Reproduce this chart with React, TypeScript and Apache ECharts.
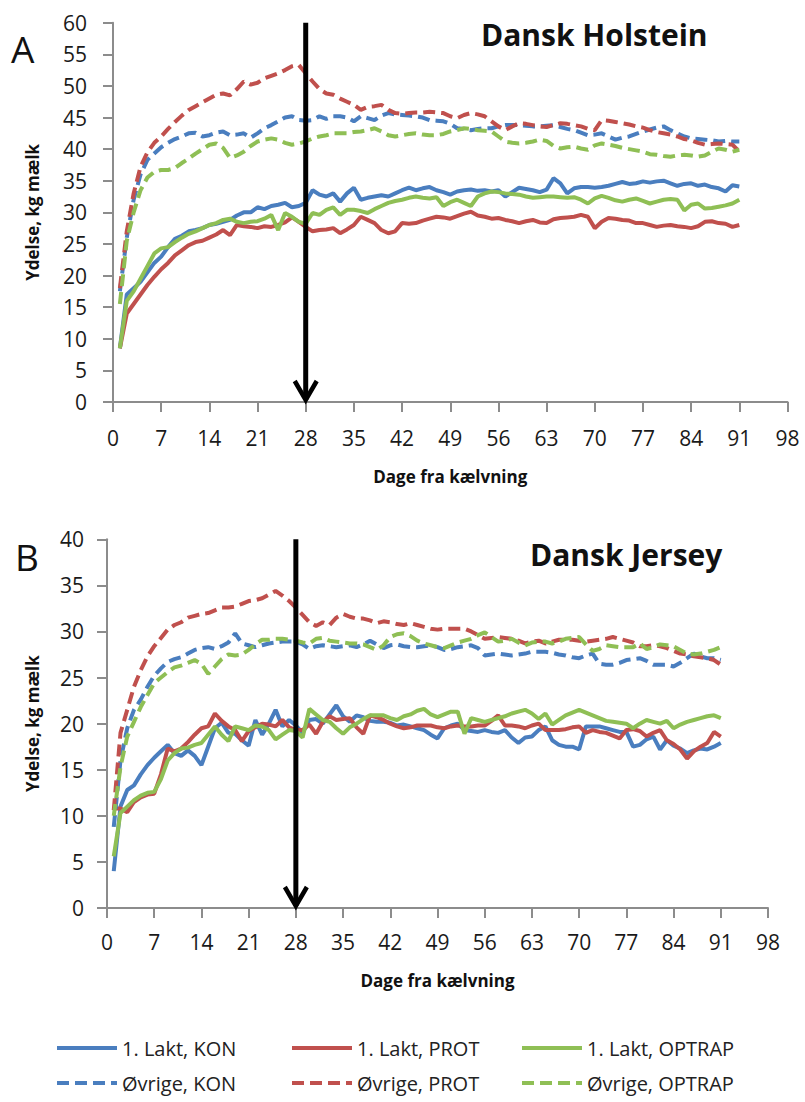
import React, { useEffect, useRef } from "react";
import * as echarts from "echarts";

const DAYS = Array.from({ length: 91 }, (_, i) => i + 1);

// Panel A – Dansk Holstein
const A_LAKT_KON = [8.5,17,18,19,20.5,22,23,24.5,25.8,26.3,27,27.2,27.5,28,28.2,28.5,28.8,29.5,30,30,30.8,30.5,31,31.2,31.5,30.8,31,31.5,33.5,32.8,32.5,33,31.7,33,33.9,32,32.3,32.5,32.7,32.5,33,33.5,33.9,33.5,33.8,34,33.5,33.2,32.8,33.3,33.5,33.6,33.4,33.5,33.3,33.5,32.5,33.2,33.9,33.7,33.5,33.2,33.6,35.4,34.6,33,33.8,34,34,33.9,34,34.2,34.5,34.8,34.5,34.6,34.9,34.7,34.9,35,34.6,34.2,34.5,34.6,34.2,34.4,34,33.8,33.3,34.3,34.1];
const A_LAKT_PROT = [8.5,14,15.5,17,18.5,19.8,21,22,23.2,24,24.8,25.3,25.5,26,26.5,27.2,26.4,28,27.8,27.7,27.5,27.8,27.7,28,28.4,29.2,28.5,27.7,27,27.2,27.3,27.5,26.7,27.3,28,29.3,28.8,28.3,27.2,26.7,27,28.3,28.2,28.3,28.7,29,29.3,29.2,29,29.4,29.8,30.1,29.5,29.3,29,29.1,28.8,28.6,28.3,28.6,28.8,28.4,28.3,28.9,29.1,29.2,29.3,29.6,29.3,27.5,28.5,29.1,29,28.8,28.7,28.3,28.3,28,27.7,27.9,28,27.8,27.7,27.5,27.8,28.5,28.6,28.3,28.2,27.7,28];
const A_LAKT_OPTRAP = [8.5,16,17.5,19.5,21.5,23.5,24.3,24.5,25.3,26,26.6,27,27.5,28,28.3,28.8,29,28.5,28.3,28.5,28.6,29,29.6,27.2,29.9,29.3,28.5,28.2,29.9,29.6,30.4,30.8,29.6,30.4,30.4,30.2,29.9,30.5,31,31.5,31.8,32,32.3,32.5,32.3,32.2,32.4,31,31.6,32,31.5,31,32.5,33,33.3,33.2,33,32.9,32.8,32.5,32.3,32.4,32.5,32.5,32.4,32.3,32.4,32,31.4,32.2,32.6,32.3,31.9,31.7,32,32.2,31.8,31.4,31.7,32,32.1,32,30.3,31.2,31.4,30.6,30.7,30.9,31.1,31.4,32];
const A_OVR_KON = [17.5,26,32,36,38.3,39.3,40.3,41,41.6,42,42.5,42.6,42,42.2,42.6,42.8,42.2,42.3,42.5,41.8,42.5,43.3,43.8,44.4,45,45.2,44.6,44.5,44.6,45.2,44.8,45.2,45.2,45,44.4,45.2,44.9,44.6,45.3,45.7,45.5,45.4,45.3,45.2,45,44.6,44.5,44.4,44,43.3,43.2,43,43.2,43.3,43.3,43.6,43.8,43.8,43.8,43.7,43.6,43.6,43.7,43.8,43.5,43.2,43,42.6,42.2,42.3,42.5,42,41.5,41.8,42,42.4,42.8,43.1,43.4,43.6,43,42.5,42,41.7,41.6,41.5,41.4,41.2,41.3,41.2,41.2];
const A_OVR_PROT = [18,27,33,37.2,39.5,41,42,43.2,44.3,45.3,46.2,46.8,47.4,48,48.6,48.8,48.5,49.5,50.7,50.2,50.5,51.2,51.6,52,52.5,53.1,53.3,52,50.7,49.5,48.8,48.6,48,47.5,47,46.2,46.7,46.8,47,46.2,45.7,45.6,45.7,45.8,45.8,45.9,45.8,45.7,45.2,44.9,45.4,45.7,45.5,45.2,44.4,43.6,43,43.6,44.1,44,43.8,43.6,43.5,43.8,44.1,44,43.8,43.6,43.2,43,44.6,44.5,44.3,44.1,43.9,43.6,43.4,43,42.7,42.5,42.3,42,41.6,41.4,41,40.7,40.8,40.9,40.8,40.7,39.6];
const A_OVR_OPTRAP = [15.5,25.5,30,33.5,35.5,36.4,36.7,36.7,37,37.8,38.5,39.3,40,40.7,40.9,40.2,38.6,39,39.6,40.5,41.2,41.5,41.7,41.5,41,40.7,40.9,41.2,41.7,42,42.2,42.5,42.5,42.5,42.7,42.8,43,43.3,42.8,42.2,42,42.2,42.4,42.5,42.3,42.2,42.2,42.4,42.8,43,43.3,43.2,43,42.9,42.8,42,41.2,41,40.9,41,41.2,41.5,41.3,40.5,40.1,40.3,40.4,40.1,39.9,40.6,40.9,40.7,40.5,40.2,40,39.8,39.6,39.2,39.1,38.9,38.8,39,39.1,39,38.8,39,39.6,40.1,39.9,39.6,39.9];

// Panel B – Dansk Jersey
const B_LAKT_KON = [4,11,12.8,13.3,14.5,15.5,16.3,17,17.7,16.8,16.5,17.1,16.5,15.5,17.5,19.5,20.1,19,18.9,18.2,17.6,20.4,18.8,20,21.5,19.7,20.4,19.8,19,20.4,20.5,20,21,22,20.8,20.2,20.9,20.7,20.3,20.2,20.2,20.1,19.8,19.9,19.7,19.5,19.3,18.8,18.4,19.5,19.8,20,19.3,19.2,19.1,19.3,19.1,19,19.3,18.5,17.9,18.5,18.6,19.3,19.7,18.2,17.7,17.5,17.5,17.2,19.7,19.7,19.7,19.5,19.3,19.1,19.1,17.5,17.7,18.3,18.6,17.2,18.2,17.6,17.3,16.8,17.1,17.3,17.2,17.5,17.9];
const B_LAKT_PROT = [10.8,10.8,10.4,11.5,12,12.3,12.4,14.5,17.3,17,17.3,18,18.8,19.5,19.7,21.1,20.3,19.7,19.3,18.1,19.2,19.6,20,19.9,19.7,20.4,19.6,19.3,19.3,19.9,18.9,20.2,20.8,20.4,20.5,20.6,19.6,18.9,20.9,20.7,20.4,20,19.7,19.5,19.6,19.8,19.8,19.8,19.6,19.5,19.7,19.8,19.7,19.7,19.8,19.8,20.3,20.9,19.8,19.8,19.7,19.5,19.8,20,19.3,19.3,19.3,19.4,19.6,19.7,19,19.3,19.1,19,18.7,18.4,19.3,19.4,19.2,18.6,19,19.3,18.2,17.8,17.2,16.2,17,17.5,17.9,19.1,18.6];
const B_LAKT_OPTRAP = [5.6,10.3,11,11.7,12.2,12.5,12.6,14,16,16.8,17.3,17.4,17.7,17.9,18.8,19.7,18.8,18.1,19.7,19.5,19.3,19.8,19.7,19.3,18.3,18.8,19.3,19.2,18.5,21.6,21,20.4,20.2,19.5,18.9,19.6,20,20.5,20.9,20.9,20.9,20.6,20.4,20.8,21,21.4,21.6,21,20.7,21,21.3,21.3,18.9,20.6,20.4,20.2,20.4,20.6,20.8,21.1,21.3,21.5,21.1,20.5,21.1,19.9,20.4,20.9,21.2,21.5,21.2,20.9,20.6,20.3,20.2,20.1,20,19.5,20,20.4,20.2,20,20.3,19.5,19.9,20.2,20.4,20.6,20.8,20.9,20.6];
const B_OVR_KON = [8.8,16,19.5,21.5,22.6,24,25.2,26,26.7,27,27.2,27.6,28,28.2,28.3,28.1,28.4,28.8,29.8,28.7,28.5,28.3,28.5,28.7,28.8,28.9,28.9,28.9,28.6,28.1,28.4,28.5,28.4,28.3,28.4,28.5,28.3,28.6,29,28.6,28.2,28.5,28.6,28.4,28.3,28.3,28.4,28.5,28.3,28,28.1,28.3,28.4,28.5,28.2,27.4,27.5,27.6,27.5,27.4,27.5,27.6,27.8,27.8,27.8,27.7,27.5,27.4,27.2,27.1,27.4,27.6,26.5,26.4,26.4,26.6,26.9,27,27.1,26.8,26.4,26.4,26.4,26.2,26.6,27.1,27.6,27.3,27.1,27.1,26.9];
const B_OVR_PROT = [10.6,19,21.5,24,25.8,27.3,28.4,29.3,30.2,30.7,31,31.5,31.7,31.9,32,32.3,32.6,32.6,32.7,33,33.3,33.4,33.6,34,34.4,33.9,33.3,32.6,31.8,31,30.6,31,30.7,31.5,31.9,31.6,31.4,31.4,31.2,30.9,31.1,31,30.8,30.7,30.9,30.7,30.5,30.3,30.2,30.3,30.3,30.3,30.3,30,29.6,29.2,29.3,29.4,29.3,29.2,29,28.7,28.9,29,28.7,28.9,29.1,29.1,29.1,29,28.9,29,29.1,29.2,29.4,29.2,29,28.8,28.4,28.4,28.5,28.4,28.2,27.9,27.6,27.5,27.3,27.2,27.1,26.9,26.4];
const B_OVR_OPTRAP = [10,15.3,18.6,20.2,21.8,23.1,24.4,25,25.6,26.1,26.3,26.6,26.9,26.5,25.4,26.2,27,27.5,27.4,27.5,28,28.6,29.1,29.1,29.2,29.2,29.1,29,28.8,28.7,29.2,29.3,29,28.9,28.8,28.7,28.7,28.6,28.3,28,28.5,29.4,29.7,29.8,29.5,29,28.7,28.5,28.3,28.2,28.5,28.8,29,29.2,29.6,29.9,29.4,28.9,29,29.2,28.8,28.5,28.8,28.9,28.9,28.7,28.9,29.2,29.3,29.4,28.6,27.9,28.1,28.5,28.4,28.3,28.3,28.3,28.7,28.1,28.3,28.6,28.5,28.4,28,27.6,27.5,27.6,27.8,28,28.3];

const SERIES_NAMES = ["1. Lakt, KON", "1. Lakt, PROT", "1. Lakt, OPTRAP", "Øvrige, KON", "Øvrige, PROT", "Øvrige, OPTRAP"];
const COLORS = ["#4a7ebf", "#c0504d", "#8fbf55", "#4a7ebf", "#c0504d", "#8fbf55"];
const DASHED = [false, false, false, true, true, true];
const PANEL_A = [A_LAKT_KON, A_LAKT_PROT, A_LAKT_OPTRAP, A_OVR_KON, A_OVR_PROT, A_OVR_OPTRAP];
const PANEL_B = [B_LAKT_KON, B_LAKT_PROT, B_LAKT_OPTRAP, B_OVR_KON, B_OVR_PROT, B_OVR_OPTRAP];
const ARROW_DAY = 28;

const FONT = "'Open Sans', 'Noto Sans', sans-serif";
const NARROW = "'Liberation Sans Narrow', 'Open Sans', sans-serif";
const AXIS_GRAY = "#8c8c8c";

export default function App() {
  const ref = useRef<HTMLDivElement>(null);

  useEffect(() => {
    if (!ref.current) return;
    const chart = echarts.init(ref.current, undefined, { renderer: "svg" });

    const mkX = (gridIndex: number, nameGap: number, margin: number) => ({
      type: "value",
      gridIndex,
      min: 0,
      max: 98,
      interval: 7,
      axisLine: { lineStyle: { color: AXIS_GRAY, width: 2 } },
      axisTick: { show: true, length: 10, lineStyle: { color: AXIS_GRAY, width: 2 } },
      axisLabel: { fontSize: 21, color: "#1a1a1a", margin, fontFamily: FONT },
      splitLine: { show: false },
      name: "Dage fra kælvning",
      nameLocation: "middle",
      nameGap,
      nameTextStyle: { fontWeight: "bold", fontSize: 17, color: "#111", fontFamily: FONT },
    });
    const mkY = (gridIndex: number, max: number, nameGap: number, margin: number) => ({
      type: "value",
      gridIndex,
      min: 0,
      max,
      interval: 5,
      axisLine: { show: true, lineStyle: { color: AXIS_GRAY, width: 2 } },
      axisTick: { show: true, length: 10, lineStyle: { color: AXIS_GRAY, width: 2 } },
      axisLabel: { fontSize: 21, color: "#1a1a1a", margin, fontFamily: FONT },
      splitLine: { show: false },
      name: "Ydelse, kg mælk",
      nameLocation: "middle",
      nameGap,
      nameRotate: 90,
      nameTextStyle: { fontWeight: "bold", fontSize: 17, color: "#111", fontFamily: FONT },
    });

    const series: any[] = [];
    [PANEL_A, PANEL_B].forEach((panel, p) => {
      panel.forEach((vals, k) => {
        series.push({
          type: "line",
          name: SERIES_NAMES[k],
          xAxisIndex: p,
          yAxisIndex: p,
          data: DAYS.map((d, i) => [d, vals[i]]),
          symbol: "none",
          smooth: false,
          lineStyle: {
            color: COLORS[k],
            width: 4,
            type: DASHED[k] ? [12, 6] : "solid",
            cap: "butt",
          },
          itemStyle: { color: COLORS[k] },
          z: DASHED[k] ? 3 : 2,
        });
      });
    });

    const legendPos = [
      [55, 1038], [290, 1038], [520, 1038],
      [55, 1073], [290, 1073], [520, 1073],
    ];
    const legends = SERIES_NAMES.map((n, k) => ({
      data: [n],
      left: legendPos[k][0],
      top: legendPos[k][1],
      padding: 0,
      itemWidth: 60,
      itemHeight: 22,
      itemGap: 4,
      selectedMode: false,
      itemStyle: { color: "rgba(0,0,0,0)", borderWidth: 0, opacity: 0 },
      lineStyle: { width: 4 },
      textStyle: { fontSize: 20, color: "#222", fontFamily: NARROW },
    }));

    chart.setOption({
      animation: false,
      backgroundColor: "#ffffff",
      grid: [
        { left: 113, right: 17.5, top: 22.7, bottom: 700 },
        { left: 107, right: 37, top: 539.3, bottom: 194 },
      ],
      xAxis: [mkX(0, 66, 25), mkX(1, 64, 23)],
      yAxis: [mkY(0, 60, 72, 26), mkY(1, 40, 66, 23)],
      legend: legends,
      series,
    });

    const arrowFor = (p: number, top: number, id: string) => {
      const finder = { xAxisIndex: p, yAxisIndex: p };
      const t = chart.convertToPixel(finder as any, [ARROW_DAY, top]) as number[];
      const b = chart.convertToPixel(finder as any, [ARROW_DAY, 0]) as number[];
      const x = t[0];
      return [
        {
          type: "line",
          id: id + "l",
          z: 100,
          shape: { x1: x, y1: t[1], x2: x, y2: b[1] - 2 },
          style: { stroke: "#000", lineWidth: 5 },
        },
        {
          type: "polyline",
          id: id + "h",
          z: 100,
          shape: { points: [[x - 11, b[1] - 21], [x, b[1] - 2], [x + 11, b[1] - 21]] },
          style: { stroke: "#000", lineWidth: 4.5, fill: "none" },
        },
      ];
    };

    chart.setOption({
      graphic: [
        ...arrowFor(0, 60, "arrA"),
        ...arrowFor(1, 40, "arrB"),
        { type: "text", id: "tA", left: 11, top: 30, z: 100, style: { text: "A", fontSize: 37, fill: "#111", fontFamily: FONT } },
        { type: "text", id: "tB", left: 15, top: 538, z: 100, style: { text: "B", fontSize: 37, fill: "#111", fontFamily: FONT } },
        { type: "text", id: "hA", left: 481, top: 19, z: 100, style: { text: "Dansk Holstein", fontSize: 30, fontWeight: "bold", fill: "#111", fontFamily: FONT } },
        { type: "text", id: "hB", left: 530, top: 539, z: 100, style: { text: "Dansk Jersey", fontSize: 30, fontWeight: "bold", fill: "#111", fontFamily: FONT } },
      ],
    });

    return () => chart.dispose();
  }, []);

  return (
    <div
      ref={ref}
      style={{ position: "fixed", left: 0, top: 0, width: 805, height: 1102, background: "#fff" }}
    />
  );
}
